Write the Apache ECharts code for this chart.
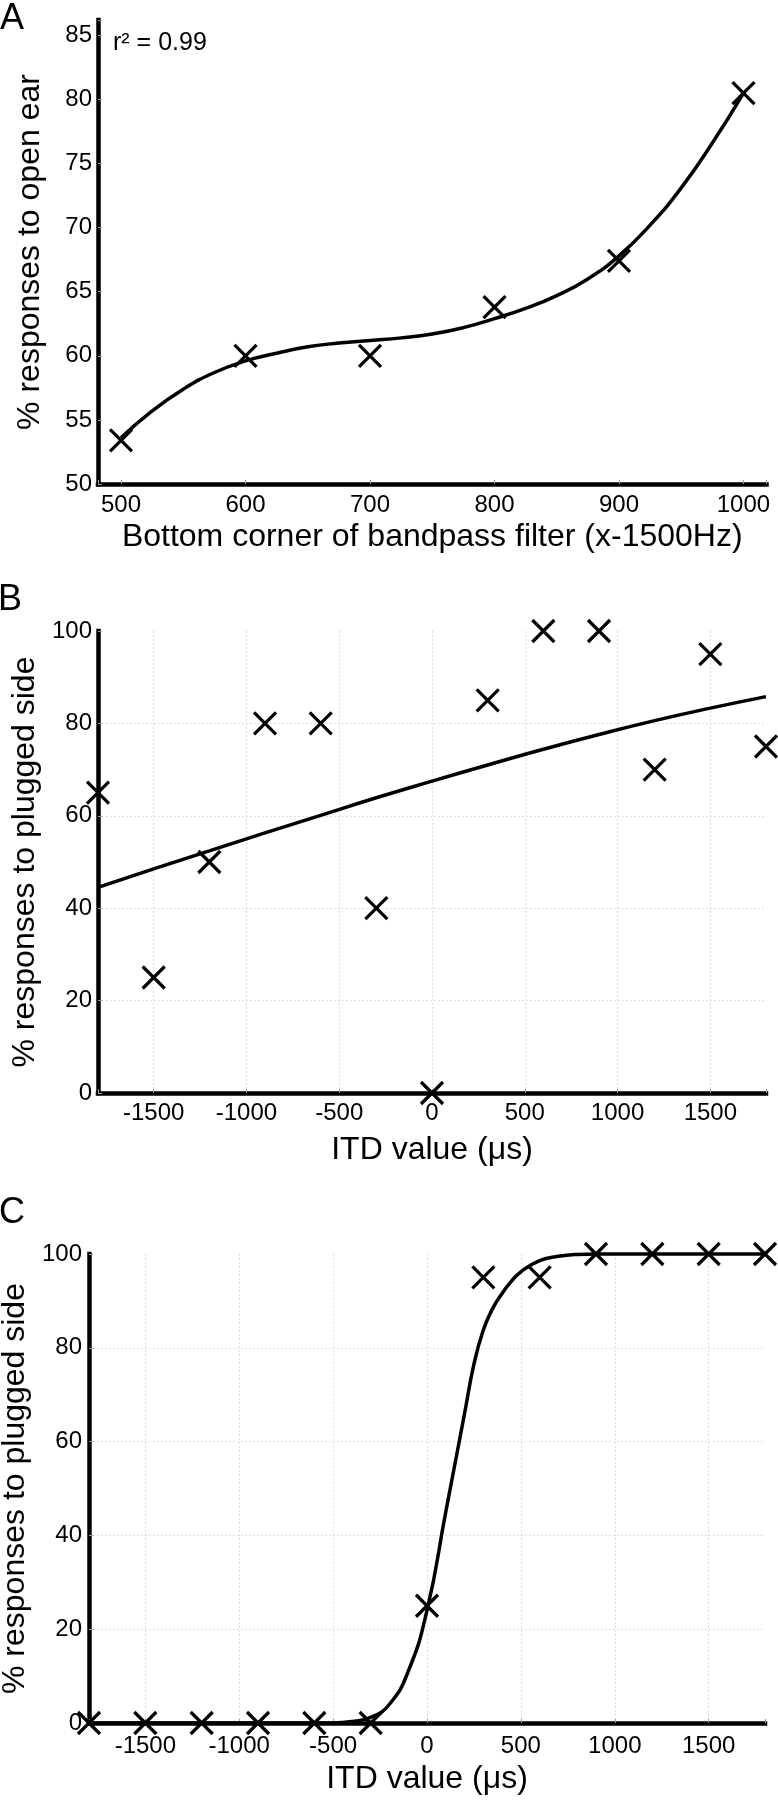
<!DOCTYPE html>
<html>
<head>
<meta charset="utf-8">
<script src="https://cdn.jsdelivr.net/npm/echarts@6/dist/echarts.min.js"></script>
<style>
html,body{margin:0;padding:0;background:#fff;}
#c{width:778px;height:1800px;}
</style>
</head>
<body>
<div id="c"></div>
<script>
// ---------- Panel A data ----------
const aX = [500, 600, 700, 800, 900, 1000];
const aY = [53.4, 60.0, 60.0, 63.8, 67.4, 80.5];
const aFitX = [500, 525, 550, 575, 600, 625, 650, 675, 700, 725, 750, 775, 800, 825, 850, 875, 900, 925, 950, 975, 1000];
const aFitY = [53.6, 55.7, 57.4, 58.7, 59.6, 60.2, 60.7, 61.0, 61.2, 61.4, 61.7, 62.2, 62.9, 63.7, 64.7, 66.0, 67.8, 70.2, 73.1, 76.6, 80.5];
const aText = 'r² = 0.99';

// ---------- Panel B data ----------
const itdX = [-1800, -1500, -1200, -900, -600, -300, 0, 300, 600, 900, 1200, 1500, 1800];
const bY = [65, 25, 50, 80, 80, 40, 0, 85, 100, 100, 70, 95, 75];
const bFitX = [-1800, -1500, -1200, -900, -600, -300, 0, 300, 600, 900, 1200, 1500, 1800];
const bFitY = [44.5, 48.5, 52.4, 56.3, 60.1, 63.9, 67.5, 71.0, 74.4, 77.6, 80.6, 83.3, 85.8];

// ---------- Panel C data ----------
const cY = [0, 0, 0, 0, 0, 0, 25, 95, 95, 100, 100, 100, 100];
const cFitX = [-1800, -1500, -1200, -900, -600, -500, -400, -300, -200, -100, 0, 100, 200, 250, 300, 350, 400, 450, 500, 600, 700, 800, 900, 1200, 1500, 1800];
const cFitY = [0, 0, 0, 0, 0, 0, 0.3, 1.2, 4, 11, 24, 45, 66, 76.5, 83.8, 88.4, 91.6, 94.2, 96.2, 98.6, 99.5, 99.9, 100, 100, 100, 100];

// ---------- Labels ----------
const panelLetters = ['A', 'B', 'C'];
const aXName = 'Bottom corner of bandpass filter (x-1500Hz)';
const aYName = '% responses to open ear';
const itdName = 'ITD value (μs)';
const plugName = '% responses to plugged side';

const zip = (xs, ys) => xs.map((x, i) => [x, ys[i]]);
const FONT = "'Liberation Sans', Arial, Helvetica, sans-serif";
const XSYM = 'path://M0,0L10,10M10,0L0,10';

const axisLine = { show: true, onZero: false, lineStyle: { color: '#000', width: 4.5, cap: 'square' } };
const axisTick = { show: true, inside: true, length: 4, lineStyle: { color: '#999', width: 1 } };
const gridLine = { show: true, showMinLine: false, showMaxLine: false, lineStyle: { type: [1.5, 2.5], color: '#d2d2d2', width: 1 } };

function xAx(gi, min, max, split, step, name, nameGap, margin, grid) {
  return {
    type: 'value', gridIndex: gi, min: min, max: max, splitNumber: split,
    axisLine: axisLine, axisTick: axisTick,
    splitLine: grid ? gridLine : { show: false },
    axisLabel: { show: true, margin: margin, color: '#000', fontSize: 24, fontFamily: FONT,
      formatter: v => (Math.abs(v % step) < 1e-6 ? String(v) : '') },
    name: name, nameLocation: 'middle', nameGap: nameGap,
    nameTextStyle: { color: '#000', fontSize: 32, fontFamily: FONT }
  };
}
function yAx(gi, min, max, interval, name, nameGap, margin, grid) {
  return {
    type: 'value', gridIndex: gi, min: min, max: max, interval: interval,
    axisLine: axisLine, axisTick: axisTick,
    splitLine: grid ? gridLine : { show: false },
    axisLabel: { show: true, margin: margin, color: '#000', fontSize: 24, fontFamily: FONT,
      formatter: v => (Math.abs(v % interval) < 1e-6 ? String(v) : '') },
    name: name, nameLocation: 'middle', nameGap: nameGap,
    nameTextStyle: { color: '#000', fontSize: 32, fontFamily: FONT }
  };
}
function scat(gi, data) {
  return { type: 'scatter', xAxisIndex: gi, yAxisIndex: gi, data: data, clip: false,
    symbol: XSYM, symbolSize: 22, z: 5,
    itemStyle: { color: '#000', borderColor: '#000', borderWidth: 3.2, opacity: 1 } };
}
function fit(gi, data) {
  return { type: 'line', xAxisIndex: gi, yAxisIndex: gi, data: data, smooth: 0.5, clip: false,
    symbol: 'none', z: 4, lineStyle: { color: '#000', width: 3.5, opacity: 1 } };
}

const chart = echarts.init(document.getElementById('c'), null, { renderer: 'canvas', width: 778, height: 1800 });
chart.setOption({
  animation: false,
  backgroundColor: '#fff',
  grid: [
    { left: 98, top: 20, width: 668.5, height: 464, outerBoundsMode: 'none', containLabel: false },
    { left: 98, top: 631, width: 668, height: 462, outerBoundsMode: 'none', containLabel: false },
    { left: 89, top: 1254, width: 676, height: 469, outerBoundsMode: 'none', containLabel: false }
  ],
  xAxis: [
    xAx(0, 481.5, 1018.5, 5, 100, aXName, 37, 9, false),
    xAx(1, -1800, 1800, 7, 500, itdName, 41, 8, true),
    xAx(2, -1800, 1800, 7, 500, itdName, 40, 11, true)
  ],
  yAxis: [
    yAx(0, 50, 86.2, 5, aYName, 52, 6, false),
    yAx(1, 0, 100, 20, plugName, 52, 6, true),
    yAx(2, 0, 100, 20, plugName, 58, 7, true)
  ],
  series: [
    fit(0, zip(aFitX, aFitY)), scat(0, zip(aX, aY)),
    fit(1, zip(bFitX, bFitY)), scat(1, zip(itdX, bY)),
    fit(2, zip(cFitX, cFitY)), scat(2, zip(itdX, cY))
  ],
  graphic: [
    { type: 'text', x: 0, y: 19.5, style: { text: panelLetters[0], font: '36px ' + FONT, fill: '#000', verticalAlign: 'middle' } },
    { type: 'text', x: -2, y: 600, style: { text: panelLetters[1], font: '36px ' + FONT, fill: '#000', verticalAlign: 'middle' } },
    { type: 'text', x: -1, y: 1213.5, style: { text: panelLetters[2], font: '36px ' + FONT, fill: '#000', verticalAlign: 'middle' } },
    { type: 'text', x: 113, y: 43, style: { text: aText, font: '25px ' + FONT, fill: '#000', verticalAlign: 'middle' } }
  ]
});
</script>
</body>
</html>
